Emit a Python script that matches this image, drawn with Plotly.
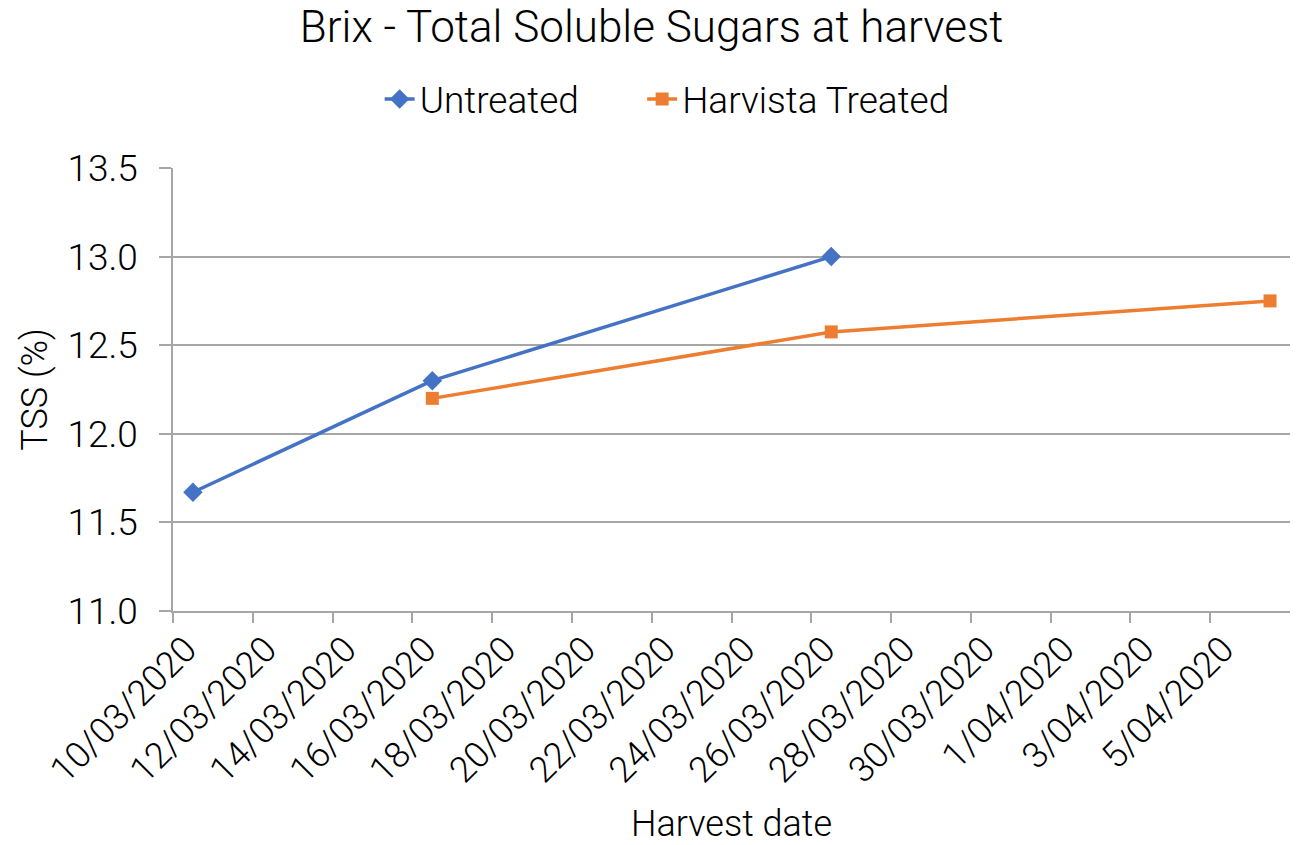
import plotly.graph_objects as go

untreated_dates = ["2020-03-10 12:00", "2020-03-16 12:00", "2020-03-26 12:00"]
untreated_tss = [11.67, 12.3, 13.0]
harvista_dates = ["2020-03-16 12:00", "2020-03-26 12:00", "2020-04-06 12:00"]
harvista_tss = [12.2, 12.575, 12.75]
tick_dates = ["2020-03-10", "2020-03-12", "2020-03-14", "2020-03-16", "2020-03-18",
              "2020-03-20", "2020-03-22", "2020-03-24", "2020-03-26", "2020-03-28",
              "2020-03-30", "2020-04-01", "2020-04-03", "2020-04-05"]
tick_labels = ["10/03/2020", "12/03/2020", "14/03/2020", "16/03/2020", "18/03/2020",
               "20/03/2020", "22/03/2020", "24/03/2020", "26/03/2020", "28/03/2020",
               "30/03/2020", "1/04/2020", "3/04/2020", "5/04/2020"]

FONT = "Roboto Light, Roboto"
W = 300
fig = go.Figure()
fig.add_trace(go.Scatter(x=untreated_dates, y=untreated_tss, name="Untreated",
                         mode="lines+markers", legend="legend",
                         line=dict(color="#4472C4", width=3.5),
                         marker=dict(symbol="diamond", size=15, color="#4472C4")))
fig.add_trace(go.Scatter(x=harvista_dates, y=harvista_tss, name="Harvista Treated",
                         mode="lines+markers", legend="legend2",
                         line=dict(color="#ED7D31", width=3.5),
                         marker=dict(symbol="square", size=13, color="#ED7D31")))

legend_font = dict(size=37, family=FONT, weight=W, color="#000")
# page body has an 8px margin, so the figure is 1291x837 placed at (8, 8)
fig.update_layout(
    width=1291, height=837,
    paper_bgcolor="white", plot_bgcolor="white",
    margin=dict(l=165, r=9, t=160, b=234, autoexpand=False),
    font=dict(family=FONT, color="#000000", weight=W),
    title=dict(text="Brix - Total Soluble Sugars at harvest", x=0.4985, xref="container",
               xanchor="center", yref="container", y=1 - 19 / 837, yanchor="middle",
               font=dict(size=44, family=FONT, weight=W, color="#000")),
    legend=dict(orientation="h", x=0.185, xanchor="left", y=1.155, yanchor="middle",
                font=legend_font, bgcolor="rgba(0,0,0,0)"),
    legend2=dict(orientation="h", x=0.42, xanchor="left", y=1.155, yanchor="middle",
                 font=legend_font, bgcolor="rgba(0,0,0,0)"),
    showlegend=True,
)
fig.update_xaxes(
    type="date", range=["2020-03-10", "2020-04-07"],
    tickmode="array", tickvals=tick_dates, ticktext=tick_labels,
    tickangle=-45, tickfont=dict(size=36, family=FONT, weight=W, color="#000"),
    ticks="outside", ticklen=10, tickcolor="#a6a6a6", tickwidth=1.5,
    ticklabelshift=13, ticklabelstandoff=-9,
    showline=True, linecolor="#a6a6a6", linewidth=1.5, showgrid=False, zeroline=False,
    automargin=False,
    title=dict(text="Harvest date", font=dict(size=36, family=FONT, weight=W, color="#000"),
               standoff=47),
)
fig.update_yaxes(
    range=[11.0, 13.5], tickvals=[11.0, 11.5, 12.0, 12.5, 13.0, 13.5],
    tickformat=".1f", tickfont=dict(size=37, family=FONT, weight=W, color="#000"),
    ticks="outside", ticklen=12, tickcolor="#a6a6a6", tickwidth=1.5,
    ticklabelstandoff=14,
    showline=True, linecolor="#a6a6a6", linewidth=1.5,
    showgrid=True, gridcolor="#a6a6a6", gridwidth=1.5, zeroline=False,
    automargin=False,
    title=dict(text="TSS (%)", font=dict(size=36, family=FONT, weight=W, color="#000"),
               standoff=9),
)
fig.write_html("out.html")
